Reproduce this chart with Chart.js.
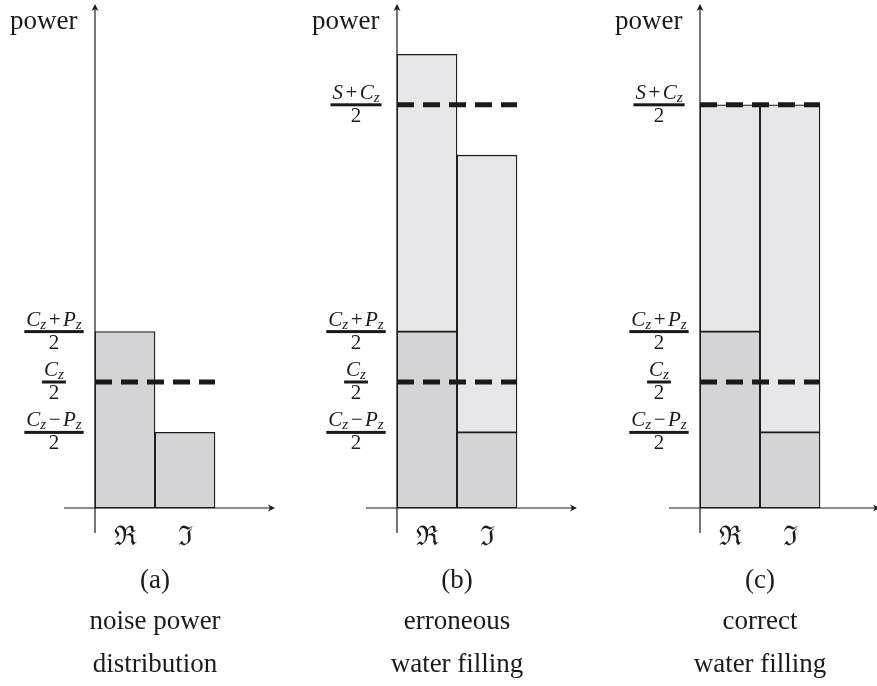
<!DOCTYPE html>
<html>
<head>
<meta charset="utf-8">
<script src="https://cdn.jsdelivr.net/npm/chart.js@4.4.0/dist/chart.umd.min.js"></script>
<style>
  html, body { margin: 0; padding: 0; background: #fff; }
  #wrap { position: relative; width: 877px; height: 686px; }
  canvas { position: absolute; top: 0; }
</style>
</head>
<body>
<div id="wrap">
  <canvas id="panelA" width="302" height="686" style="left:0px"></canvas>
  <canvas id="panelB" width="302" height="686" style="left:302px"></canvas>
  <canvas id="panelC" width="302" height="686" style="left:605px"></canvas>
</div>
<script>
// data (units: C_z = 5, P_z = 2, S = 11)
const categories = ['ℜ', 'ℑ'];
const noiseA = [3.5, 1.5];
const waterA = [0, 0];
const noiseB = [3.5, 1.5];
const waterB = [5.5, 5.5];
const noiseC = [3.5, 1.5];
const waterC = [4.5, 6.5];
const levelsA = [2.5];
const levelsB = [2.5, 8];
const levelsC = [2.5, 8];
const ticksA = [3.5, 2.5, 1.5];
const ticksBC = [8, 3.5, 2.5, 1.5];
const tickNumerators = {
  '8': [['S', 'i'], ['+', 'o'], ['C', 'i'], ['z', 's']],
  '3.5': [['C', 'i'], ['z', 's'], ['+', 'o'], ['P', 'i'], ['z', 's']],
  '2.5': [['C', 'i'], ['z', 's']],
  '1.5': [['C', 'i'], ['z', 's'], ['−', 'o'], ['P', 'i'], ['z', 's']]
};
const captionTags = ['(a)', '(b)', '(c)'];
const captionLines = [['noise power', 'distribution'], ['erroneous', 'water filling'], ['correct', 'water filling']];

const SERIF = "'Liberation Serif', 'DejaVu Serif', serif";
const INK = '#1a1a1a';

function partFont(kind) {
  if (kind === 'i') return 'italic 21px ' + SERIF;
  if (kind === 's') return 'italic 15px ' + SERIF;
  return '21px ' + SERIF;
}

function partWidth(ctx, p) {
  ctx.font = partFont(p[1]);
  let w = ctx.measureText(p[0]).width;
  if (p[1] === 'o') w += 5;
  return w;
}

function drawFraction(ctx, cx, y, parts) {
  let w = 0;
  parts.forEach(p => { w += partWidth(ctx, p); });
  let x = cx - w / 2;
  ctx.fillStyle = INK;
  ctx.textBaseline = 'alphabetic';
  ctx.textAlign = 'left';
  parts.forEach(p => {
    ctx.font = partFont(p[1]);
    const pw = partWidth(ctx, p);
    if (p[1] === 'o') ctx.fillText(p[0], x + 2.5, y - 6);
    else if (p[1] === 's') ctx.fillText(p[0], x, y - 3);
    else ctx.fillText(p[0], x, y - 6);
    x += pw;
  });
  ctx.fillRect(cx - w / 2 - 2, y - 1.5, w + 4, 3);
  ctx.font = '21px ' + SERIF;
  ctx.textAlign = 'center';
  ctx.fillText('2', cx, y + 17);
}

function arrowHead(ctx, x, y, dir) {
  ctx.beginPath();
  if (dir === 'up') {
    ctx.moveTo(x, y);
    ctx.lineTo(x - 3.5, y + 7);
    ctx.lineTo(x, y + 5);
    ctx.lineTo(x + 3.5, y + 7);
  } else {
    ctx.moveTo(x, y);
    ctx.lineTo(x - 7, y - 3.5);
    ctx.lineTo(x - 5, y);
    ctx.lineTo(x - 7, y + 3.5);
  }
  ctx.closePath();
  ctx.fill();
}

const decorPlugin = {
  id: 'decor',
  afterDraw(chart, args, opts) {
    const ctx = chart.ctx;
    const a = chart.chartArea;
    const yScale = chart.scales.y;
    const x0 = a.left, y0 = yScale.getPixelForValue(0);
    ctx.save();
    ctx.strokeStyle = INK;
    ctx.fillStyle = INK;
    ctx.lineWidth = 1.2;
    // y axis
    ctx.beginPath();
    ctx.moveTo(x0, y0 + 25);
    ctx.lineTo(x0, a.top + 3);
    ctx.stroke();
    arrowHead(ctx, x0, a.top, 'up');
    // x axis
    ctx.beginPath();
    ctx.moveTo(x0 - 31, y0);
    ctx.lineTo(a.right + 56, y0);
    ctx.stroke();
    arrowHead(ctx, a.right + 60, y0, 'right');
    // axis title
    ctx.font = '27px ' + SERIF;
    ctx.textAlign = 'left';
    ctx.textBaseline = 'alphabetic';
    ctx.fillText('power', x0 - 85, 29);
    // fraction tick labels
    opts.ticks.forEach(v => {
      drawFraction(ctx, x0 - 41, yScale.getPixelForValue(v), tickNumerators[String(v)]);
    });
    // captions
    const cx = (a.left + a.right) / 2;
    ctx.textAlign = 'center';
    ctx.font = '27px ' + SERIF;
    ctx.fillText(opts.tag, cx, 588);
    opts.lines.forEach((t, i) => ctx.fillText(t, cx, 629 + i * 43));
    ctx.restore();
  }
};

function makePanel(id, noise, water, levels, ticks, idx) {
  const datasets = levels.map((lv, i) => ({
    type: 'line',
    label: 'level' + i,
    xAxisID: 'xl',
    stack: 'lv' + i,
    data: [{ x: 0, y: lv }, { x: 2, y: lv }],
    borderColor: INK,
    borderWidth: 5,
    borderDash: [17, 9],
    pointRadius: 0,
    fill: false,
    order: 0,
    clip: false
  }));
  const barStyle = {
    borderColor: INK,
    borderWidth: 1.3,
    borderSkipped: false,
    stack: 'bars',
    grouped: false,
    barPercentage: 1,
    categoryPercentage: 1,
    order: 1,
    clip: false
  };
  datasets.push(Object.assign({ label: 'noise', data: noise, backgroundColor: '#d4d4d6' }, barStyle));
  datasets.push(Object.assign({ label: 'water', data: water, backgroundColor: '#e7e7e9' }, barStyle));

  new Chart(document.getElementById(id), {
    type: 'bar',
    data: { labels: categories, datasets: datasets },
    options: {
      responsive: false,
      animation: false,
      layout: { padding: { left: 95, right: 87, top: 4, bottom: 128 } },
      plugins: {
        legend: { display: false },
        tooltip: { enabled: false },
        decor: { ticks: ticks, tag: captionTags[idx], lines: captionLines[idx] }
      },
      scales: {
        x: {
          stacked: true,
          grid: { display: false },
          border: { display: false },
          ticks: { color: INK, font: { family: 'DejaVu Serif', size: 27 }, padding: 6 },
          afterFit: s => { s.height = 50; }
        },
        xl: { type: 'linear', min: 0, max: 2, offset: false, display: false },
        y: { stacked: true, min: 0, max: 10, display: false }
      }
    },
    plugins: [decorPlugin]
  });
}

makePanel('panelA', noiseA, waterA, levelsA, ticksA, 0);
makePanel('panelB', noiseB, waterB, levelsB, ticksBC, 1);
makePanel('panelC', noiseC, waterC, levelsC, ticksBC, 2);
</script>
</body>
</html>
